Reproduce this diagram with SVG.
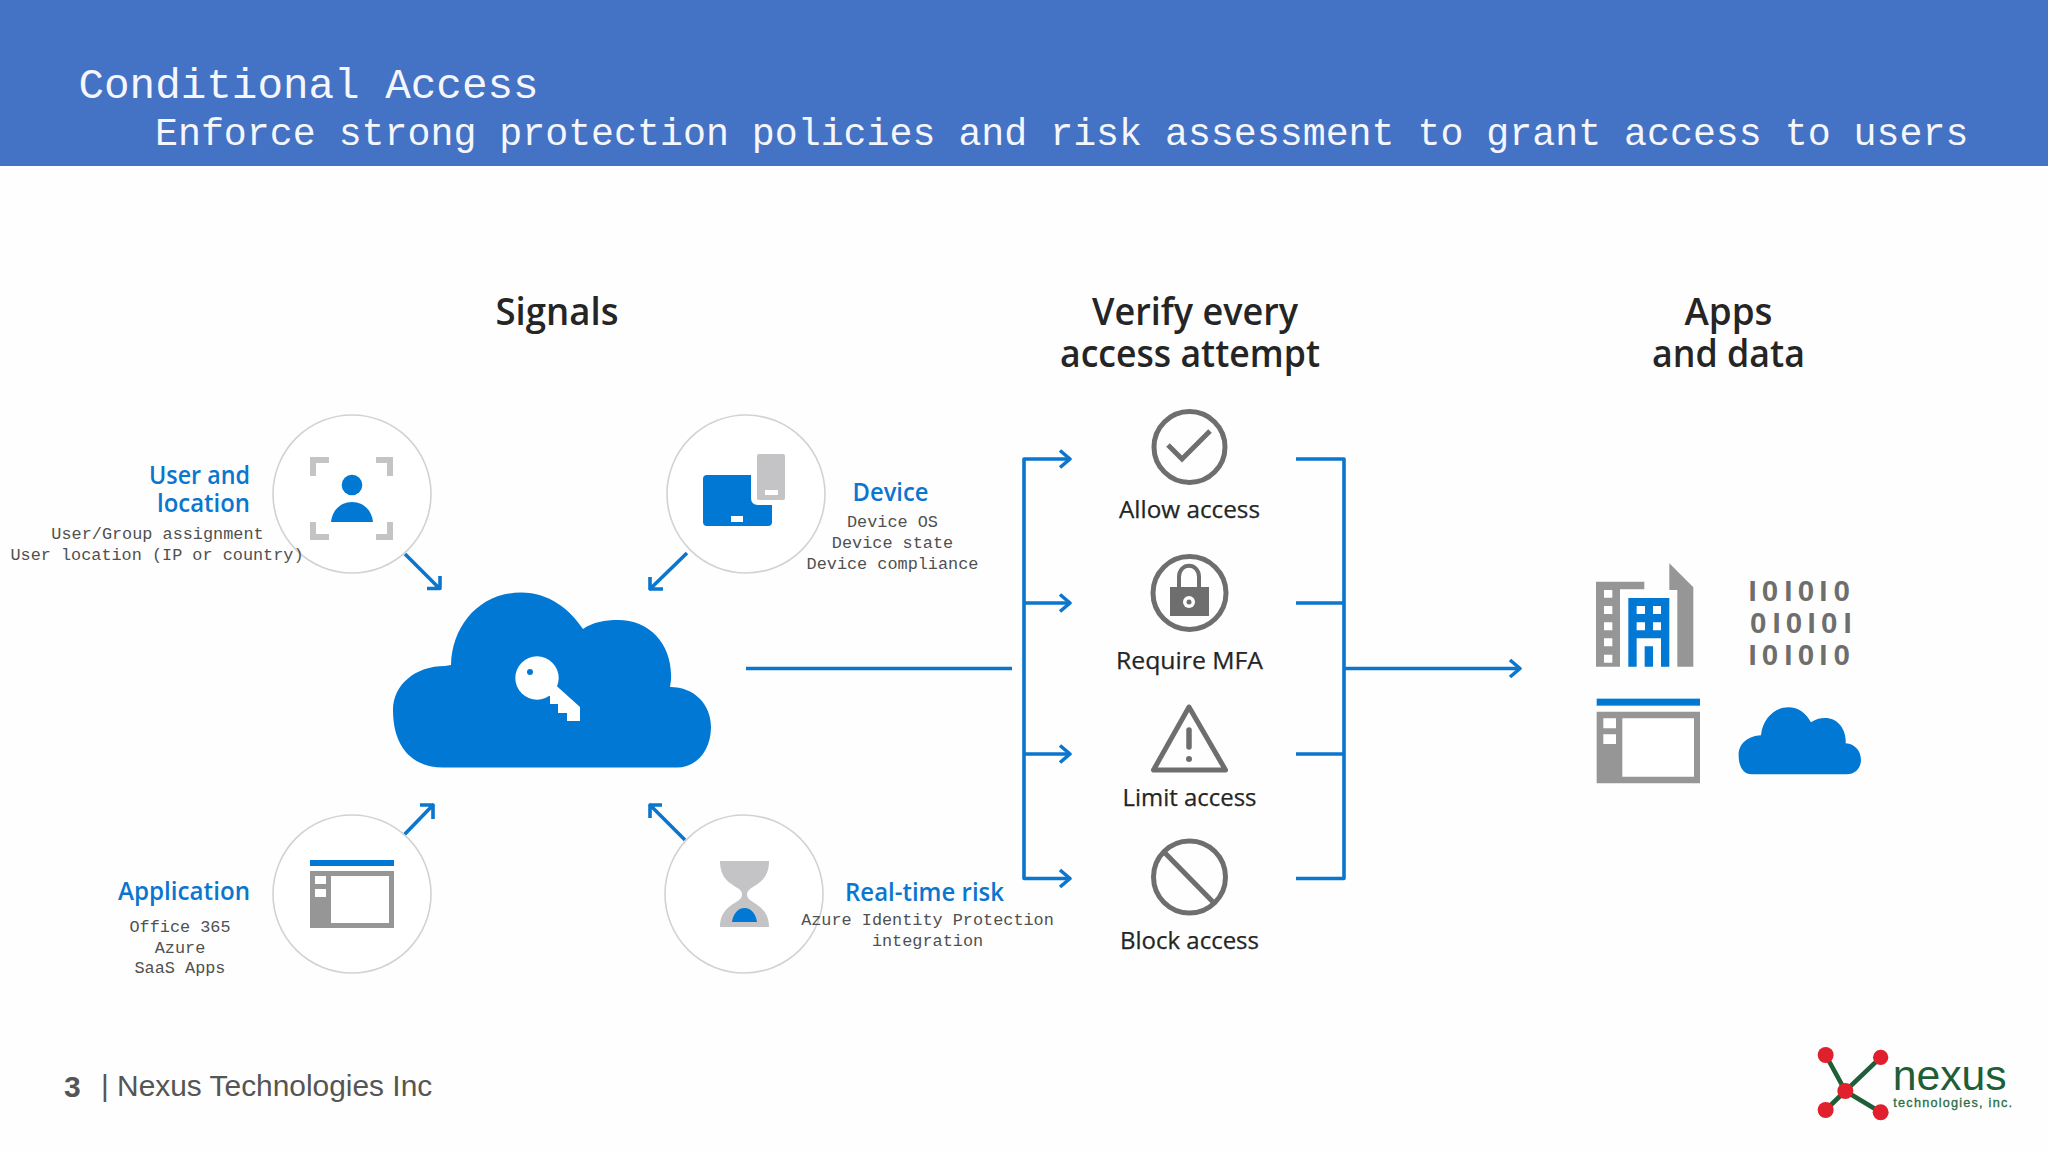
<svg xmlns="http://www.w3.org/2000/svg" width="2048" height="1152" viewBox="0 0 2048 1152">
<style>
.mono{font-family:"Liberation Mono",monospace}
.ui{font-family:"Open Sans","Noto Sans",sans-serif}
.h{font-size:37px;fill:#252525;text-anchor:middle;font-weight:600}
.b{font-size:25px;fill:#0b76ce;font-weight:600}
.s{font-size:16.85px;fill:#505050;text-anchor:middle}
.a{font-size:24px;fill:#252525;text-anchor:middle;font-weight:500;stroke:#252525;stroke-width:.25}
.ring{fill:#fff;stroke:#d2d2d2;stroke-width:1.6}
.icon{fill:none;stroke:#6e6e6e;stroke-width:5}
.blue{fill:#0078d4}
.grey{fill:#969696}
.lgrey{fill:#c4c4c6}
.w{fill:#fff}
.bin{font-family:"Liberation Sans",Arial,sans-serif;font-size:29.5px;font-weight:700;fill:#6e6e6e;text-anchor:middle}
.c{fill:none;stroke:#0b76ce;stroke-width:3.6;stroke-linejoin:round}
</style>
<rect width="2048" height="1152" fill="#fefefe"/>
<g id="header">
<rect width="2048" height="166" fill="#4472c4"/>
<text class="mono" x="78.500" y="98" font-size="42.6" fill="#f4f6fb">Conditional Access</text>
<text class="mono" x="155" y="145" font-size="38.25" fill="#f4f6fb">Enforce strong protection policies and risk assessment to grant access to users</text>
</g>
<g id="headings">
<text class="ui h" x="557" y="325" textLength="123" lengthAdjust="spacingAndGlyphs">Signals</text>
<text class="ui h" x="1195" y="325" textLength="206" lengthAdjust="spacingAndGlyphs">Verify every</text>
<text class="ui h" x="1190" y="367" textLength="260" lengthAdjust="spacingAndGlyphs">access attempt</text>
<text class="ui h" x="1728.500" y="325" textLength="88" lengthAdjust="spacingAndGlyphs">Apps</text>
<text class="ui h" x="1728.500" y="367" textLength="153" lengthAdjust="spacingAndGlyphs">and data</text>
</g>
<g id="connectors">
<path class="c" d="M405,554L440,589M427,588.500H440V576"/>
<path class="c" d="M687,553L649,590M663,589H650V577"/>
<path class="c" d="M404,835L434,804M420,805H433V819"/>
<path class="c" d="M685,840L649,804M662,805H650V818"/>
<path class="c" d="M746,668.500H1012"/>
<path class="c" d="M1070,459H1024V878.500H1070M1024,603H1070M1024,754H1070"/>
<path class="c" d="M1060,450.500L1070,459L1060,467.500M1060,594.500L1070,603L1060,611.500M1060,745.500L1070,754L1060,762.500M1060,870L1070,878.500L1060,887"/>
<path class="c" d="M1296,459H1344V878.500H1296M1296,603H1344M1296,754H1344M1344,668.500H1520"/>
<path class="c" d="M1510,660L1520,668.500L1510,677"/>
</g>
<g id="user-location">
<circle class="ring" cx="352" cy="494" r="79"/>
<path class="lgrey" d="M310,457H329V463H316V476H310ZM393,457V476H387V463H376V457ZM310,522H316V534H329V540H310ZM387,522H393V540H376V534H387Z"/>
<circle class="blue" cx="352" cy="485" r="10.3"/>
<path class="blue" d="M331,522C332,510 341,502 352,502C363,502 372,510 373,522Z"/>
<text class="ui b" x="250" y="484" text-anchor="end" textLength="101" lengthAdjust="spacingAndGlyphs">User and</text>
<text class="ui b" x="250" y="512" text-anchor="end" textLength="93" lengthAdjust="spacingAndGlyphs">location</text>
<text class="mono s" x="157.500" y="538.500">User/Group assignment</text>
<text class="mono s" x="157" y="559.500">User location (IP or country)</text>
</g>
<g id="device">
<circle class="ring" cx="746" cy="494" r="79"/>
<path class="blue" d="M707,475H751V498Q751,505 758,505H772V522Q772,526 768,526H707Q703,526 703,522V479Q703,475 707,475Z"/>
<rect class="w" x="731" y="516" width="12" height="6"/>
<rect class="lgrey" x="757" y="454" width="28" height="46" rx="2"/>
<rect class="w" x="765" y="490" width="13" height="5"/>
<text class="ui b" x="890.500" y="501" text-anchor="middle" textLength="76" lengthAdjust="spacingAndGlyphs">Device</text>
<text class="mono s" x="892.500" y="527">Device OS</text>
<text class="mono s" x="892.500" y="548">Device state</text>
<text class="mono s" x="892.500" y="568.500">Device compliance</text>
</g>
<g id="application">
<circle class="ring" cx="352" cy="894" r="79"/>
<rect class="blue" x="310" y="860" width="84" height="6"/>
<rect class="grey" x="310" y="871" width="84" height="57"/>
<rect class="w" x="331" y="876" width="58" height="47"/>
<rect class="w" x="315" y="876" width="11" height="8"/>
<rect class="w" x="315" y="889" width="11" height="8"/>
<text class="ui b" x="118" y="900" textLength="132" lengthAdjust="spacingAndGlyphs">Application</text>
<text class="mono s" x="180" y="932">Office 365</text>
<text class="mono s" x="180" y="953">Azure</text>
<text class="mono s" x="180" y="973">SaaS Apps</text>
</g>
<g id="realtime-risk">
<circle class="ring" cx="744" cy="894" r="79"/>
<path class="lgrey" d="M720,861H769C769,880 757,884 750,889C746,892 746,897 750,900C757,905 769,910 769,927H720C720,910 732,905 739,900C743,897 743,892 739,889C732,884 720,880 720,861Z"/>
<path class="blue" d="M732,922C733,914 738,908 744.500,908C751,908 756,914 757,922Z"/>
<text class="ui b" x="845" y="900.500" textLength="159" lengthAdjust="spacingAndGlyphs">Real-time risk</text>
<text class="mono s" x="927.500" y="925">Azure Identity Protection</text>
<text class="mono s" x="927.500" y="946">integration</text>
</g>
<g id="cloud-key">
<path class="blue" d="M443,767.500C415,767.500 393,750 393,710C393,685 415,666 445,666L451,665C452,625 480,592.500 521,592.500C550,592.500 570,610 583,629C593,622 605,620 618,620C650,620 673,645 671,680L670,687C695,687 711,705 711,727C711,750 697,767.500 677,767.500Z"/>
<circle class="w" cx="537" cy="678" r="21.700"/>
<path class="w" d="M550,680L580,707V721H567V713H558V704H550V696H540Z"/>
<circle class="blue" cx="530" cy="672" r="3"/>
</g>
<g id="allow">
<circle class="icon" cx="1189.500" cy="447" r="35.500"/>
<path class="icon" d="M1168,445L1182,459L1210,431"/>
<text class="ui a" x="1189.500" y="518" textLength="141" lengthAdjust="spacingAndGlyphs">Allow access</text>
</g>
<g id="mfa">
<circle class="icon" cx="1189.500" cy="593" r="36.500"/>
<path class="icon" style="stroke-width:4" d="M1179,588V577C1179,562 1199,562 1199,577V588"/>
<rect x="1170" y="587" width="39" height="29" fill="#6e6e6e"/>
<circle class="w" cx="1189" cy="602" r="6"/>
<circle cx="1189" cy="602" r="2.500" fill="#6e6e6e"/>
<text class="ui a" x="1189.500" y="669" textLength="147" lengthAdjust="spacingAndGlyphs">Require MFA</text>
</g>
<g id="limit">
<path class="icon" stroke-linejoin="round" d="M1189,707L1153.500,770H1225.500Z"/>
<path d="M1189,730V747" stroke="#6e6e6e" stroke-width="5.500" stroke-linecap="round"/>
<circle cx="1189" cy="759" r="3" fill="#6e6e6e"/>
<text class="ui a" x="1189.500" y="806" textLength="134" lengthAdjust="spacingAndGlyphs">Limit access</text>
</g>
<g id="block">
<circle class="icon" cx="1189.500" cy="877" r="36"/>
<path class="icon" d="M1165,853L1213,902"/>
<text class="ui a" x="1189.500" y="949" textLength="139" lengthAdjust="spacingAndGlyphs">Block access</text>
</g>
<g id="apps-data">
<g transform="translate(1570 550) scale(.3333)">
<path class="grey" d="M78,95H223V118H150V350H78Z"/>
<path class="w" d="M102,120H127V143H102ZM102,168H127V192H102ZM102,217H127V241H102ZM102,265H127V289H102ZM102,314H127V338H102Z"/>
<path class="blue" d="M175,144H298V350H273V265H200V350H175ZM224,289H249V350H224Z"/>
<path class="w" d="M200,168H225V192H200ZM249,168H273V192H249ZM200,217H225V241H200ZM249,217H273V241H249Z"/>
<path class="grey" d="M298,40L370,112V350H322V120H298Z"/>
<rect class="blue" x="80" y="446" width="310" height="21"/>
<path class="grey" d="M80,485H390V700H80Z"/>
<path class="w" d="M157,505H372V680H157ZM100,505H138V535H100ZM100,553H138V582H100Z"/>
<path class="blue" d="M545,673C520,673 506,650 506,615C506,580 535,558 573,556C578,505 615,472 655,472C685,472 708,490 723,517C735,508 750,504 765,504C805,504 830,540 827,580C855,582 873,603 873,630C873,655 855,673 830,673Z"/>
</g>
<text class="bin" x="1752.700 1770 1788.300 1806 1823.300 1841.700" y="601">I0I0I0</text>
<text class="bin" x="1758.300 1776.700 1794 1811.700 1829.300 1847.700" y="632.700">0I0I0I</text>
<text class="bin" x="1752.700 1770 1788.300 1806 1823.300 1841.700" y="664.500">I0I0I0</text>
</g>
<g id="footer" font-family="'Liberation Sans',Arial,sans-serif" fill="#555">
<text x="64" y="1097" font-size="30" font-weight="700">3</text>
<text x="101" y="1095.500" font-size="29.900">| Nexus Technologies Inc</text>
</g>
<g id="logo" transform="translate(1790 1030) scale(.3333)">
<path d="M107,75L166,183L107,240M272,82L166,183L272,247" fill="none" stroke="#1f5f38" stroke-width="14"/>
<g fill="#e0202c"><circle cx="107" cy="75" r="24"/><circle cx="272" cy="82" r="23"/><circle cx="166" cy="183" r="24"/><circle cx="107" cy="240" r="24"/><circle cx="272" cy="247" r="24"/></g>
<text x="308" y="180" font-family="'Liberation Sans',Arial,sans-serif" font-size="130" fill="#1f5f38" textLength="342" lengthAdjust="spacingAndGlyphs">nexus</text>
<text x="310" y="231" font-family="'Liberation Sans',Arial,sans-serif" font-size="38" fill="#2a6e46" stroke="#2a6e46" stroke-width="1" textLength="356">technologies, inc.</text>
</g>
</svg>
